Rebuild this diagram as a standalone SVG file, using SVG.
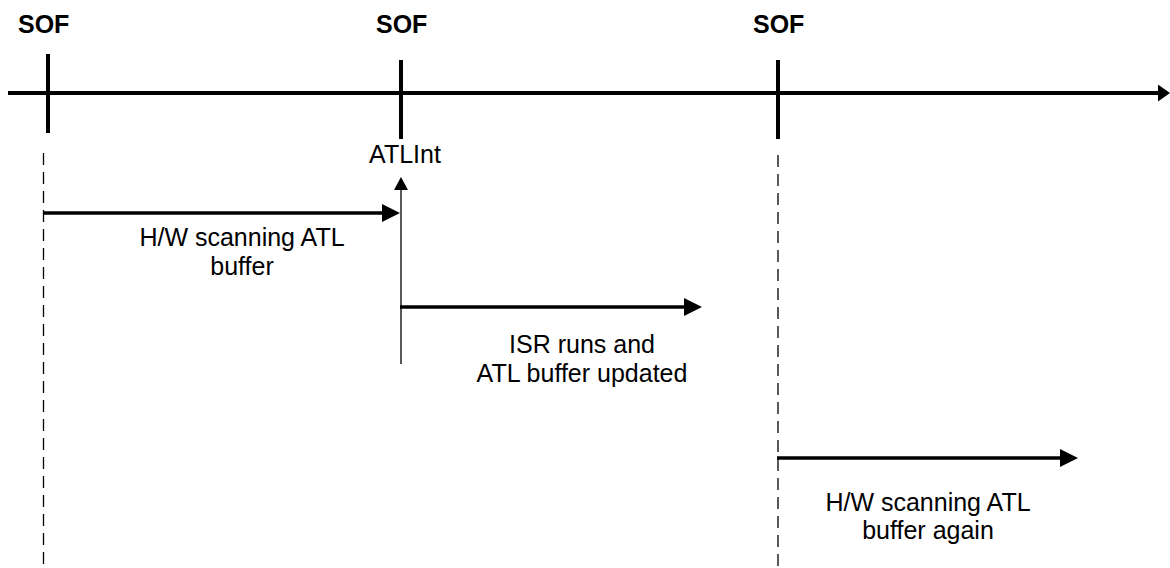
<svg xmlns="http://www.w3.org/2000/svg" width="1170" height="568" viewBox="0 0 1170 568">
<style>
text{font-family:"Liberation Sans",Arial,sans-serif;font-size:25px;fill:#000}
.b{font-weight:bold}
.m{text-anchor:middle}
.tick{stroke:#000;stroke-width:4;fill:none}
.thick{stroke:#000;stroke-width:3.5;fill:none}
.thin{stroke:#000;stroke-width:1.3;fill:none}
.dash{stroke:#000;stroke-width:1.3;stroke-dasharray:12 7;fill:none}
</style>
<defs>
<marker id="big" viewBox="0 0 18 18" refX="1" refY="9" markerWidth="18" markerHeight="18" markerUnits="userSpaceOnUse" orient="auto"><path d="M0,0L18,9L0,18z" fill="#000"/></marker>
<marker id="tl" viewBox="0 0 12 17" refX="1" refY="8.5" markerWidth="12" markerHeight="17" markerUnits="userSpaceOnUse" orient="auto"><path d="M0,0L12,8.5L0,17z" fill="#000"/></marker>
<marker id="sm" viewBox="0 0 13 14" refX="1" refY="7" markerWidth="13" markerHeight="14" markerUnits="userSpaceOnUse" orient="auto"><path d="M0,0L13,7L0,14z" fill="#000"/></marker>
</defs>
<g id="timeline">
<line class="tick" x1="8" y1="93" x2="1159" y2="93" marker-end="url(#tl)"/>
</g>
<g id="sof1">
<text class="b" x="18" y="33">SOF</text>
<line class="tick" x1="48" y1="54" x2="48" y2="133"/>
</g>
<g id="sof2">
<text class="b" x="376" y="33">SOF</text>
<line class="tick" x1="401" y1="60" x2="401" y2="139"/>
</g>
<g id="sof3">
<text class="b" x="753" y="33">SOF</text>
<line class="tick" x1="778" y1="60" x2="778" y2="139"/>
</g>
<g id="atlint">
<text class="m" x="405" y="163">ATLInt</text>
</g>
<g id="label-hw1">
<text class="m" x="242" y="246">H/W scanning ATL</text>
<text class="m" x="242" y="275">buffer</text>
</g>
<g id="label-isr">
<text class="m" x="582" y="353">ISR runs and</text>
<text class="m" x="582" y="382">ATL buffer updated</text>
</g>
<g id="label-hw2">
<text class="m" x="928" y="511">H/W scanning ATL</text>
<text class="m" x="928" y="539">buffer again</text>
</g>
<g id="connectors">
<line class="dash" x1="43.5" y1="153" x2="43.5" y2="568"/>
<line class="dash" x1="778" y1="155" x2="778" y2="568"/>
<line class="thick" x1="43" y1="213" x2="383" y2="213" marker-end="url(#big)"/>
<line class="thin" x1="401" y1="364" x2="401" y2="189" marker-end="url(#sm)"/>
<line class="thick" x1="400" y1="307" x2="685" y2="307" marker-end="url(#big)"/>
<line class="thick" x1="777" y1="458" x2="1061" y2="458" marker-end="url(#big)"/>
</g>
</svg>
